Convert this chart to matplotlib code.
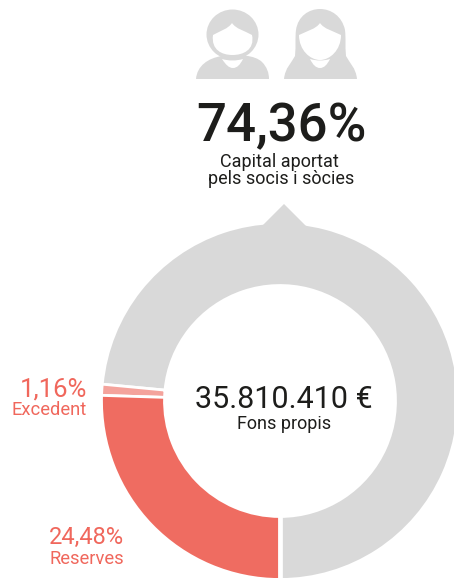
#!/usr/bin/env python3

import matplotlib
matplotlib.use("Agg")
import matplotlib.pyplot as plt
from matplotlib.patches import Ellipse, PathPatch, Polygon
from matplotlib.path import Path

# arc shares as drawn in the picture (they differ a bit from the printed labels)
drawn_shares = [73.5, 1.0, 25.5]
share_colors = ["#d9d9d9", "#f4a39c", "#ef6c61"]

main_value = "74,36%"
main_label = ["Capital aportat", "pels socis i sòcies"]
total_value = "35.810.410 €"
total_label = "Fons propis"
excedent_value, excedent_label = "1,16%", "Excedent"
reserves_value, reserves_label = "24,48%", "Reserves"

GRAY = "#d9d9d9"
DARK = "#1d1d1b"
RED = "#f0675c"
H = 578

plt.rcParams["font.family"] = ["Roboto", "DejaVu Sans"]


def yy(y):
    return H - y


def curve(ax, verts, color, z):
    # verts: first point, then (c1, c2, end) triples, in picture pixels
    pts = [(x, yy(y)) for x, y in verts]
    codes = [Path.MOVETO] + [Path.CURVE4] * (len(pts) - 1)
    ax.add_patch(PathPatch(Path(pts, codes), fc=color, ec="none", zorder=z))


def draw_man(ax):
    curve(ax, [(196, 79), (197, 66), (208, 58), (222, 56), (238, 54), (255, 55), (262, 62),
               (267, 67), (269, 73), (269, 79), (245, 79), (220, 79), (196, 79)], GRAY, 2)
    ax.add_patch(Ellipse((232.5, yy(34.5)), 52, 50, fc=GRAY, ec="none", zorder=3))
    curve(ax, [(232, 23), (228, 29), (220, 31), (213, 35), (211, 50), (222, 55), (232.5, 55),
               (243, 55), (255, 50), (252, 35), (245, 31), (236, 29), (232, 23)], "white", 4)
    curve(ax, [(222, 59), (226, 65), (229, 68), (233, 68), (237, 68), (240, 65), (243, 59),
               (236, 61), (229, 61), (222, 59)], "white", 5)


def draw_woman(ax):
    curve(ax, [(284, 79), (285, 68), (292, 62), (295, 56), (296, 45), (295, 38), (296, 30),
               (298, 16), (309, 9), (320, 9), (331, 9), (342, 16), (345, 30),
               (346, 38), (345, 45), (346, 56), (349, 62), (356, 68), (357, 79),
               (333, 79), (308, 79), (284, 79)], GRAY, 2)
    curve(ax, [(320, 23), (316, 29), (307, 31), (299, 35), (299, 50), (310, 60), (320, 60),
               (330, 60), (341, 50), (341, 35), (333, 31), (324, 29), (320, 23)], "white", 4)
    curve(ax, [(310, 59), (313, 65), (316, 68), (320, 68), (324, 68), (327, 65), (330, 59),
               (323, 61), (317, 61), (310, 59)], "white", 5)


fig = plt.figure(figsize=(4.54, 5.78), dpi=100)
ax = fig.add_axes([0, 0, 1, 1])

ax.pie(drawn_shares, colors=share_colors, startangle=270, counterclock=True,
       center=(280, yy(401)), radius=178.5, frame=True,
       wedgeprops={"width": 63, "edgecolor": "white", "linewidth": 2.0})
ax.set_xlim(0, 454)
ax.set_ylim(0, H)
ax.axis("off")

# wider cut at the bottom of the ring
ax.plot([279.5, 279.5], [yy(515), yy(582)], color="white", lw=3.4, zorder=2, solid_capstyle="butt")

ax.add_patch(Polygon([(284, yy(204)), (259, yy(229)), (309, yy(229))], fc=GRAY, ec="none", zorder=3))

draw_man(ax)
draw_woman(ax)

ax.text(281, yy(141), main_value, fontsize=38, fontweight="medium", color=DARK, ha="center", va="baseline")
ax.text(279, yy(167), main_label[0], fontsize=13, color=DARK, ha="center", va="baseline")
ax.text(281.5, yy(184), main_label[1], fontsize=13, color=DARK, ha="center", va="baseline")
ax.text(283.5, yy(408), total_value, fontsize=22, color=DARK, ha="center", va="baseline")
ax.text(284, yy(429), total_label, fontsize=13, color=DARK, ha="center", va="baseline")
ax.text(87, yy(396), excedent_value, fontsize=18.5, color=RED, ha="right", va="baseline")
ax.text(87, yy(415), excedent_label, fontsize=13.2, color=RED, ha="right", va="baseline")
ax.text(124, yy(544), reserves_value, fontsize=17, color=RED, ha="right", va="baseline")
ax.text(124, yy(564), reserves_label, fontsize=13.2, color=RED, ha="right", va="baseline")

fig.savefig("out.png", dpi=100)
